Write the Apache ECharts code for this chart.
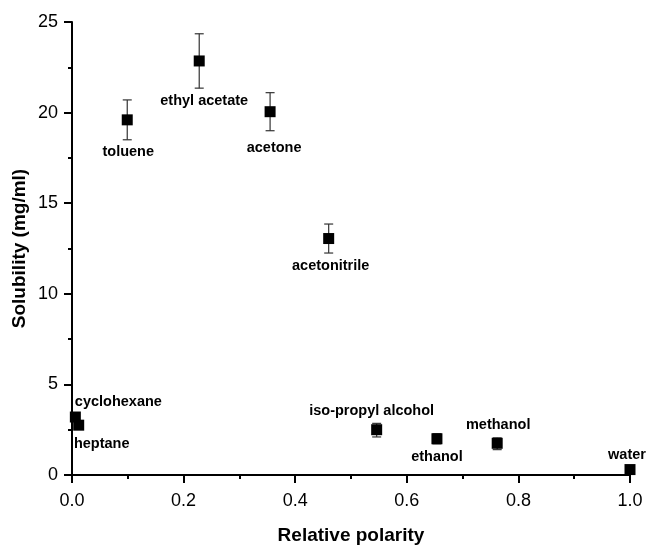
<!DOCTYPE html>
<html><head><meta charset="utf-8">
<script src="https://cdn.jsdelivr.net/npm/echarts@6/dist/echarts.min.js"></script>
<style>html,body{margin:0;padding:0;background:#fff}#c{width:648px;height:546px}</style>
</head><body><div id="c"></div>
<script>
const solvents = ['cyclohexane','heptane','toluene','ethyl acetate','acetone','acetonitrile','iso-propyl alcohol','ethanol','methanol','water'];
const polarity = [0.006, 0.012, 0.099, 0.228, 0.355, 0.460, 0.546, 0.654, 0.762, 1.000];
const solubility = [3.2, 2.75, 19.6, 22.85, 20.05, 13.05, 2.5, 2.0, 1.75, 0.3];
const errLow = [3.2, 2.75, 18.5, 21.35, 19.0, 12.25, 2.1, 1.72, 1.4, 0.3];
const errHigh = [3.2, 2.75, 20.7, 24.35, 21.1, 13.85, 2.85, 2.28, 2.05, 0.3];

// label placement (style only): offset of label centre from point centre, px
const labelOffset = [
  [43, -15], [23, 19], [1, 32], [5, 40], [4, 36], [2, 27], [-5, -19], [0, 18], [1, -18], [-3, -15]
];

const scatterData = polarity.map((x, i) => ({
  value: [x, solubility[i]],
  name: solvents[i],
  label: { offset: labelOffset[i] }
}));
const errData = polarity.map((x, i) => [x, errLow[i], errHigh[i]]);

const FONT = 'Liberation Sans';
const axisCommon = {
  axisLine: { show: true, onZero: false, lineStyle: { color: '#000', width: 2 } },
  axisTick: { show: true, inside: false, length: 8, lineStyle: { color: '#000', width: 2 } },
  minorTick: { show: true, splitNumber: 2, length: 4, lineStyle: { color: '#000', width: 2 } },
  splitLine: { show: false }
};

const chart = echarts.init(document.getElementById('c'));
chart.setOption({
  animation: false,
  grid: { left: 72, right: 18, top: 22, bottom: 71, containLabel: false, outerBoundsMode: 'none' },
  xAxis: Object.assign({
    type: 'value', min: 0, max: 1, interval: 0.2,
    name: 'Relative polarity', nameLocation: 'middle', nameGap: 51,
    nameTextStyle: { fontFamily: FONT, fontWeight: 'bold', fontSize: 19, color: '#000' },
    axisLabel: { fontFamily: FONT, fontSize: 18, color: '#000', margin: 17, formatter: v => v.toFixed(1) }
  }, axisCommon),
  yAxis: Object.assign({
    type: 'value', min: 0, max: 25, interval: 5,
    name: 'Solubility (mg/ml)', nameLocation: 'middle', nameGap: 43, nameRotate: 90,
    nameMoveOverlap: false,
    nameTextStyle: { fontFamily: FONT, fontWeight: 'bold', fontSize: 19, color: '#000' },
    axisLabel: { fontFamily: FONT, fontSize: 18, color: '#000', margin: 14 }
  }, axisCommon),
  series: [
    {
      type: 'custom',
      data: errData,
      renderItem: function (params, api) {
        const x = api.value(0);
        const lo = api.coord([x, api.value(1)]);
        const hi = api.coord([x, api.value(2)]);
        if (Math.abs(lo[1] - hi[1]) < 1) return null;
        const w = 4.5;
        const style = { stroke: '#333', lineWidth: 1.2 };
        return {
          type: 'group',
          children: [
            { type: 'line', shape: { x1: lo[0], y1: lo[1], x2: hi[0], y2: hi[1] }, style },
            { type: 'line', shape: { x1: lo[0] - w, y1: lo[1], x2: lo[0] + w, y2: lo[1] }, style },
            { type: 'line', shape: { x1: hi[0] - w, y1: hi[1], x2: hi[0] + w, y2: hi[1] }, style }
          ]
        };
      },
      z: 1
    },
    {
      type: 'scatter',
      symbol: 'rect',
      symbolSize: 11,
      itemStyle: { color: '#000', opacity: 1 },
      data: scatterData,
      label: {
        show: true,
        position: 'inside',
        formatter: p => p.name,
        fontFamily: FONT, fontWeight: 'bold', fontSize: 14.5, color: '#000'
      },
      emphasis: { disabled: true },
      z: 2
    }
  ]
});
</script></body></html>
